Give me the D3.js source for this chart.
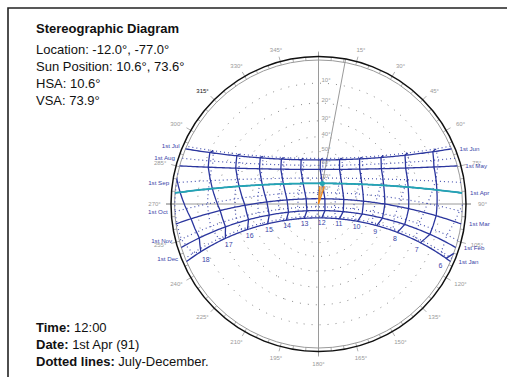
<!DOCTYPE html>
<html>
<head>
<meta charset="utf-8">
<script src="https://cdn.jsdelivr.net/npm/d3@7"></script>
<style>
  body { margin: 0; background: #fff; }
  svg { display: block; font-family: "Liberation Sans", Arial, sans-serif; }
</style>
</head>
<body>
<div id="chart"></div>
<script>
// site
const latitude = -12.0;
const longitude = -77.0;
const zoneMeridian = -75.0;

// 1st of each month: declination (deg) and equation of time (min)
const months = ['Jan', 'Feb', 'Mar', 'Apr', 'May', 'Jun', 'Jul', 'Aug', 'Sep', 'Oct', 'Nov', 'Dec'];
const declination = [-23.0, -17.2, -7.8, 4.3, 15.0, 22.0, 23.1, 18.1, 8.4, -3.0, -14.3, -21.7];
const equationOfTime = [-3.2, -13.5, -12.5, -4.1, 2.9, 2.3, -3.8, -6.3, -0.1, 10.1, 16.4, 11.0];

const hours = [6, 7, 8, 9, 10, 11, 12, 13, 14, 15, 16, 17, 18];
const altitudes = [10, 20, 30, 40, 50, 60, 70, 80];
const azimuthTicks = [0, 15, 30, 45, 60, 75, 90, 105, 120, 135, 150, 165, 180, 195, 210, 225, 240, 255, 270, 285, 300, 315, 330, 345];
const minorTicks = d3.range(0, 360, 5);

const currentMonth = 3;   // 1st Apr
const currentHour = 12;
const sunAzimuth = 10.6;

const infoTop = ['Location: -12.0°, -77.0°', 'Sun Position: 10.6°, 73.6°', 'HSA: 10.6°', 'VSA: 73.9°'];
const infoBottom = [['Time:', '12:00'], ['Date:', '1st Apr (91)'], ['Dotted lines:', 'July-December.']];

const width = 507, height = 377;
const cx = 318.5, cy = 204;
const rHorizon = 144, rOuter = 147.5;

const blue = '#2b369e', dotBlue = '#4a55b0', labelBlue = '#3a45a8', teal = '#22a6b4', grey = '#9a9a9a';
const rad = d => d * Math.PI / 180;

const svg = d3.select('#chart').append('svg')
  .attr('width', width)
  .attr('height', height);

// frame
svg.append('path')
  .attr('d', `M8,${height + 5}V8H${width + 5}`)
  .attr('fill', 'none')
  .attr('stroke', '#222')
  .attr('stroke-width', 1.6);

// equatorial coords [-hourAngle, dec] -> sky dome, zenith at centre
const proj = d3.geoStereographic()
  .rotate([0, -latitude])
  .scale(rHorizon)
  .translate([cx, cy])
  .clipAngle(90)
  .precision(0.1);
const path = d3.geoPath(proj);

function hourAngle(h, m) {
  const minutes = h * 60 + 4 * (longitude - zoneMeridian) + equationOfTime[m];
  return (minutes / 60 - 12) * 15;
}

function parallel(dec) {
  const ring = d3.geoCircle().center([0, 90]).radius(90 - dec).precision(1)().coordinates[0];
  return { type: 'LineString', coordinates: ring };
}

function projectedPoints(geo) {
  const pts = [];
  d3.geoStream(geo, proj.stream({
    point(x, y) { pts.push([x, y]); },
    lineStart() {}, lineEnd() {}, polygonStart() {}, polygonEnd() {}, sphere() {}
  }));
  return pts;
}

// altitude rings
const zenith = [0, latitude];
svg.append('g').selectAll('path')
  .data(altitudes)
  .join('path')
  .attr('d', a => path(d3.geoCircle().center(zenith).radius(90 - a)()))
  .attr('fill', 'none')
  .attr('stroke', '#8a8a8a')
  .attr('stroke-width', 1)
  .attr('stroke-dasharray', '1,7');

// compass ring
const ring = svg.append('g').attr('transform', `translate(${cx},${cy})`);
ring.append('circle').attr('r', rHorizon).attr('fill', 'none').attr('stroke', grey).attr('stroke-width', 1);
ring.selectAll('.minor')
  .data(minorTicks)
  .join('line')
  .attr('class', 'minor')
  .attr('x1', d => d3.pointRadial(rad(d), rHorizon)[0])
  .attr('y1', d => d3.pointRadial(rad(d), rHorizon)[1])
  .attr('x2', d => d3.pointRadial(rad(d), rOuter)[0])
  .attr('y2', d => d3.pointRadial(rad(d), rOuter)[1])
  .attr('stroke', grey)
  .attr('stroke-width', 0.8);
ring.selectAll('.major')
  .data(azimuthTicks)
  .join('line')
  .attr('class', 'major')
  .attr('x1', d => d3.pointRadial(rad(d), rOuter)[0])
  .attr('y1', d => d3.pointRadial(rad(d), rOuter)[1])
  .attr('x2', d => d3.pointRadial(rad(d), rOuter + 5)[0])
  .attr('y2', d => d3.pointRadial(rad(d), rOuter + 5)[1])
  .attr('stroke', grey)
  .attr('stroke-width', 0.8);
ring.selectAll('.azlabel')
  .data(azimuthTicks.filter(d => d !== 0))
  .join('text')
  .attr('class', 'azlabel')
  .attr('x', d => d3.pointRadial(rad(d), rOuter + 10)[0] + Math.sin(rad(d)) * 6.5)
  .attr('y', d => d3.pointRadial(rad(d), rOuter + 10)[1] - Math.cos(rad(d)) * 2)
  .attr('dy', '0.35em')
  .attr('text-anchor', 'middle')
  .style('font-size', '6px')
  .attr('fill', d => d === 315 ? '#111' : grey)
  .text(d => d + '°');

// cross hairs
ring.append('line').attr('x1', 0).attr('y1', -rOuter - 4).attr('x2', 0).attr('y2', rOuter + 4)
  .attr('stroke', grey).attr('stroke-width', 1);
ring.append('line').attr('x1', -rOuter - 5).attr('y1', 0).attr('x2', rOuter + 5).attr('y2', 0)
  .attr('stroke', grey).attr('stroke-width', 1);

// altitude labels
svg.append('g').selectAll('text')
  .data(altitudes)
  .join('text')
  .attr('x', cx + 3)
  .attr('y', a => proj([0, latitude + 90 - a])[1] - 1)
  .style('font-size', '6px')
  .attr('fill', grey)
  .text(a => a + '°');

// sun azimuth line
const hsaEnd = d3.pointRadial(rad(sunAzimuth), rOuter);
ring.append('line').attr('x1', 0).attr('y1', 0).attr('x2', hsaEnd[0]).attr('y2', hsaEnd[1])
  .attr('stroke', grey).attr('stroke-width', 1);

ring.append('circle').attr('r', rOuter).attr('fill', 'none').attr('stroke', '#111').attr('stroke-width', 1.5);

// date lines
const monthIdx = d3.range(12);
const dates = svg.append('g');
dates.selectAll('path')
  .data(monthIdx)
  .join('path')
  .attr('d', m => path(parallel(declination[m])))
  .attr('fill', 'none')
  .attr('stroke', m => m < 6 ? blue : dotBlue)
  .attr('stroke-width', m => m < 6 ? 1.3 : 1.2)
  .attr('stroke-dasharray', m => m < 6 ? null : '1,3');

// hour lines
const hourLines = svg.append('g');
hours.forEach(h => {
  const firstHalf = [0, 1, 2, 3, 4, 5, 6].map(m => [-hourAngle(h, m), declination[m]]);
  const secondHalf = [6, 7, 8, 9, 10, 11, 0].map(m => [-hourAngle(h, m), declination[m]]);
  hourLines.append('path')
    .attr('d', path({ type: 'LineString', coordinates: secondHalf }))
    .attr('fill', 'none').attr('stroke', dotBlue).attr('stroke-width', 1.2).attr('stroke-dasharray', '1,3');
  hourLines.append('path')
    .attr('d', path({ type: 'LineString', coordinates: firstHalf }))
    .attr('fill', 'none').attr('stroke', blue).attr('stroke-width', 1.3);
});

// current date
svg.append('path')
  .attr('d', path(parallel(declination[currentMonth])))
  .attr('fill', 'none')
  .attr('stroke', teal)
  .attr('stroke-width', 1.8);

// date labels
monthIdx.forEach(m => {
  const pts = projectedPoints(parallel(declination[m]));
  const end = m < 6 ? d3.greatest(pts, p => p[0]) : d3.least(pts, p => p[0]);
  svg.append('text')
    .attr('x', m < 6 ? end[0] + 8 : end[0] - 7)
    .attr('y', end[1])
    .attr('dy', '0.35em')
    .attr('text-anchor', m < 6 ? 'start' : 'end')
    .style('font-size', '6.2px')
    .attr('fill', labelBlue)
    .text('1st ' + months[m]);
});

// hour labels
svg.append('g').selectAll('text')
  .data(hours)
  .join('text')
  .attr('x', h => proj([-hourAngle(h, 0), declination[0] - 4])[0])
  .attr('y', h => proj([-hourAngle(h, 0), declination[0] - 4])[1])
  .attr('dy', '0.35em')
  .attr('text-anchor', 'middle')
  .style('font-size', '7px')
  .attr('fill', labelBlue)
  .text(h => h);

// sun
const sun = proj([-hourAngle(currentHour, currentMonth), declination[currentMonth]]);
svg.append('path')
  .attr('d', `M${sun[0] - 2.5},${sun[1] + 3}L${cx},${cy}L${sun[0] + 2},${sun[1] + 3}`)
  .attr('fill', '#f7b15a')
  .attr('fill-opacity', 0.5)
  .attr('stroke', '#f08a1c')
  .attr('stroke-width', 1.3);
svg.append('circle')
  .attr('cx', sun[0]).attr('cy', sun[1]).attr('r', 2.5)
  .attr('fill', teal);

// info text
svg.append('text')
  .attr('x', 36).attr('y', 33)
  .style('font-size', '13px').style('font-weight', 'bold')
  .attr('fill', '#111')
  .text('Stereographic Diagram');
svg.append('g').selectAll('text')
  .data(infoTop)
  .join('text')
  .attr('x', 36)
  .attr('y', (d, i) => 54 + i * 17)
  .style('font-size', '13px')
  .attr('fill', '#111')
  .text(d => d);

const bottom = svg.append('g').selectAll('text')
  .data(infoBottom)
  .join('text')
  .attr('x', 36)
  .attr('y', (d, i) => 332 + i * 17)
  .style('font-size', '13px')
  .attr('fill', '#111');
bottom.append('tspan').style('font-weight', 'bold').text(d => d[0] + ' ');
bottom.append('tspan').text(d => d[1]);
</script>
</body>
</html>
